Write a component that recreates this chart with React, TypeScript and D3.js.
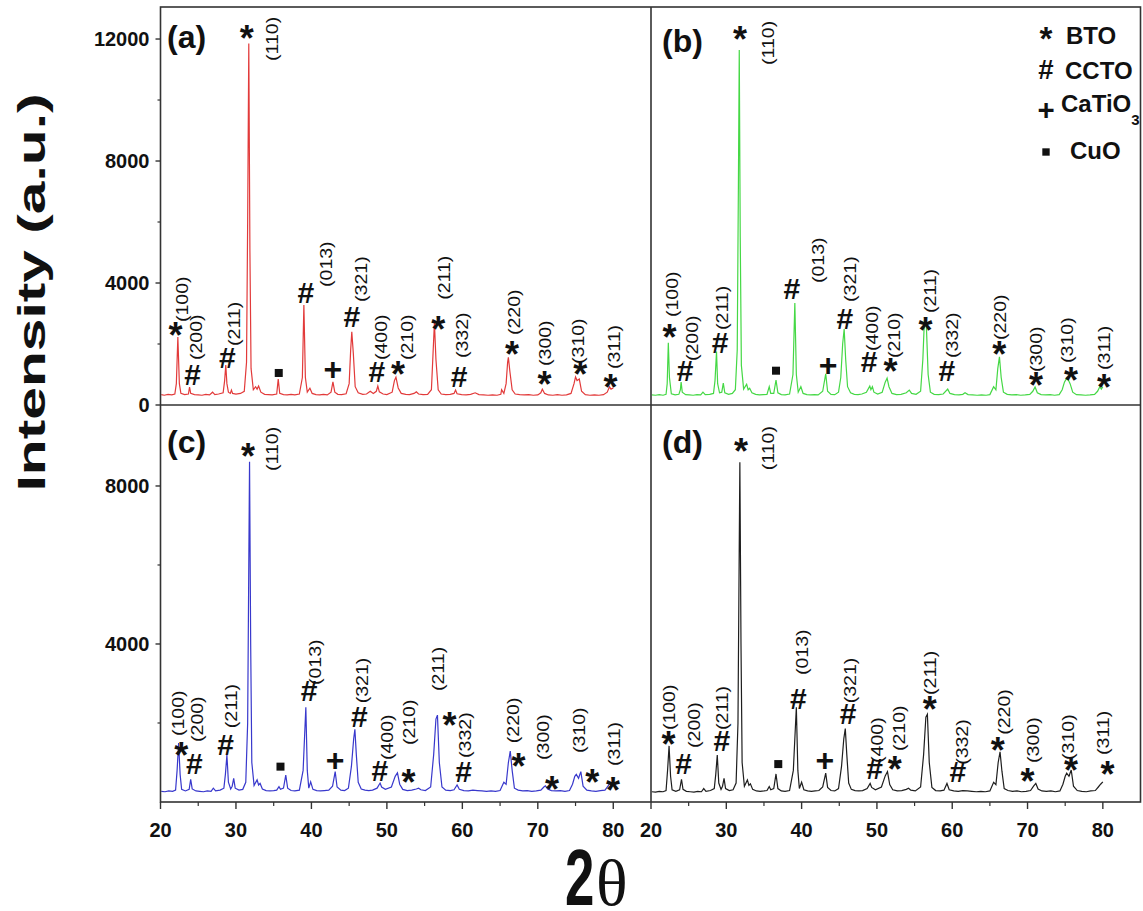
import React from "react";
import * as d3 from "d3";

const W = 1143;
const H = 911;
const FONT = "'Liberation Sans', Arial, Helvetica, sans-serif";

// 2θ / intensity readings for each pattern
const patternA: [number, number][] = [
  [20.1,340],[20.5,320],[21.0,350],[21.5,330],[21.9,360],[22.1,700],[22.3,2230],[22.5,700],[22.7,380],[23.2,340],
  [23.7,360],[23.85,590],[24.0,380],[24.5,340],[25.0,330],[25.5,320],[26.0,350],[26.5,330],[26.9,420],[27.2,340],
  [27.7,360],[28.3,400],[28.5,800],[28.65,1310],[28.8,700],[29.0,420],[29.25,380],[29.4,490],[29.55,380],[30.0,360],
  [30.6,380],[31.1,450],[31.4,1400],[31.55,6000],[31.7,11850],[31.85,5000],[32.0,1200],[32.3,500],[32.6,600],[32.8,520],
  [33.0,620],[33.3,420],[33.8,350],[34.3,340],[34.8,330],[35.4,360],[35.6,850],[35.8,380],[36.3,340],[36.8,330],
  [37.3,350],[37.8,330],[38.4,360],[38.8,900],[39.0,3280],[39.2,900],[39.45,420],[39.8,550],[40.1,380],[40.6,340],
  [41.1,330],[41.6,350],[42.1,330],[42.6,420],[42.85,760],[43.1,420],[43.5,350],[44.0,340],[44.6,370],[45.0,700],
  [45.2,1800],[45.35,2400],[45.55,1700],[45.8,600],[46.2,400],[46.8,350],[47.3,360],[47.8,450],[48.2,380],[48.6,450],
  [48.8,620],[49.0,430],[49.5,360],[50.0,340],[50.7,420],[51.0,800],[51.2,910],[51.5,560],[51.9,380],[52.5,350],
  [53.0,340],[53.6,380],[53.9,430],[54.2,360],[54.8,340],[55.4,350],[55.9,500],[56.1,1600],[56.3,2700],[56.5,1500],
  [56.8,500],[57.2,360],[57.8,340],[58.4,350],[58.9,380],[59.1,490],[59.3,370],[59.9,340],[60.5,330],[61.1,350],
  [61.7,400],[62.2,340],[62.8,330],[63.4,320],[64.0,330],[64.6,320],[65.1,350],[65.2,500],[65.5,380],[65.8,700],
  [66.0,1400],[66.1,1560],[66.3,1100],[66.6,500],[67.0,360],[67.6,340],[68.2,330],[68.8,340],[69.4,320],[70.0,330],
  [70.4,400],[70.6,520],[70.9,380],[71.4,330],[72.0,320],[72.6,340],[73.2,320],[73.8,330],[74.4,380],[74.8,700],
  [75.0,920],[75.2,800],[75.5,850],[75.8,450],[76.3,340],[76.9,320],[77.5,330],[78.1,320],[78.7,340],[79.2,420],
  [79.5,600],[79.7,520],[80.0,560],
];

const patternB: [number, number][] = [
  [20.1,330],[20.6,320],[21.1,340],[21.6,320],[22.0,350],[22.15,700],[22.3,2040],[22.45,900],[22.7,370],[23.2,330],
  [23.7,350],[23.9,500],[24.0,750],[24.15,420],[24.6,340],[25.1,330],[25.6,320],[26.1,340],[26.6,330],[26.9,420],
  [27.2,340],[27.8,350],[28.3,380],[28.5,800],[28.7,1750],[28.85,700],[29.1,400],[29.4,420],[29.6,720],[29.8,400],
  [30.3,350],[30.8,380],[31.2,500],[31.45,1800],[31.6,7000],[31.72,11640],[31.85,5500],[32.0,1300],[32.3,520],[32.7,680],
  [32.9,500],[33.1,550],[33.4,400],[33.9,350],[34.4,330],[34.9,340],[35.4,350],[35.7,600],[35.9,380],[36.3,380],
  [36.6,820],[36.85,400],[37.3,340],[37.8,330],[38.4,360],[38.85,1000],[39.1,3340],[39.3,1000],[39.55,420],[39.9,600],
  [40.2,380],[40.7,340],[41.2,330],[41.7,340],[42.2,330],[42.8,450],[43.2,1020],[43.45,450],[43.9,350],[44.4,340],
  [44.9,420],[45.2,900],[45.45,2000],[45.65,2490],[45.85,1500],[46.1,600],[46.5,400],[47.0,350],[47.5,340],[48.0,360],
  [48.6,420],[49.05,620],[49.2,500],[49.4,600],[49.6,420],[50.1,360],[50.7,420],[51.1,750],[51.35,880],[51.6,600],
  [52.0,380],[52.6,340],[53.2,350],[53.9,400],[54.3,490],[54.6,380],[55.2,350],[55.8,450],[56.1,1500],[56.3,2750],
  [56.55,2700],[56.8,1000],[57.1,420],[57.6,350],[58.2,340],[58.8,360],[59.4,520],[59.7,380],[60.3,340],[60.9,330],
  [61.4,350],[61.7,400],[62.1,340],[62.7,330],[63.3,320],[63.9,330],[64.5,320],[65.0,340],[65.5,600],[65.8,500],
  [66.05,1200],[66.27,1580],[66.5,900],[66.8,420],[67.3,350],[67.9,330],[68.5,340],[69.1,320],[69.7,330],[70.3,350],
  [70.7,450],[71.0,590],[71.3,400],[71.8,340],[72.4,330],[73.0,340],[73.6,320],[74.2,340],[74.6,500],[74.9,750],
  [75.2,880],[75.45,800],[75.65,700],[76.0,420],[76.5,340],[77.1,330],[77.7,320],[78.3,330],[78.9,350],[79.3,450],
  [79.6,600],[79.8,520],[80.0,600],
];

const patternC: [number, number][] = [
  [20.1,270],[20.6,260],[21.1,280],[21.6,270],[22.0,300],[22.2,800],[22.4,1490],[22.6,700],[22.8,320],[23.3,280],
  [23.8,320],[24.0,575],[24.2,330],[24.7,280],[25.2,270],[25.7,260],[26.2,280],[26.7,270],[27.0,350],[27.3,280],
  [27.9,300],[28.4,350],[28.6,700],[28.8,1190],[29.0,500],[29.3,330],[29.5,400],[29.7,600],[29.9,350],[30.4,300],
  [30.9,320],[31.3,500],[31.55,2000],[31.7,6000],[31.8,8615],[31.95,4000],[32.1,1000],[32.4,420],[32.8,560],[33.0,430],
  [33.2,470],[33.5,330],[34.0,290],[34.5,280],[35.0,290],[35.4,300],[35.7,390],[35.9,320],[36.3,350],[36.6,680],
  [36.85,350],[37.3,290],[37.8,280],[38.4,300],[38.9,800],[39.26,2400],[39.45,800],[39.65,350],[39.9,510],[40.2,320],
  [40.7,290],[41.2,280],[41.7,290],[42.3,300],[42.8,400],[43.15,770],[43.4,380],[43.9,300],[44.4,290],[44.9,350],
  [45.3,900],[45.6,1600],[45.76,1840],[45.95,1200],[46.2,500],[46.6,330],[47.1,300],[47.6,290],[48.1,300],[48.7,350],
  [49.1,480],[49.3,380],[49.8,320],[50.6,380],[51.1,650],[51.4,740],[51.7,450],[52.1,320],[52.7,290],[53.3,300],
  [53.9,330],[54.2,350],[54.5,310],[55.1,290],[55.8,380],[56.2,1200],[56.5,2100],[56.7,2200],[56.95,1000],[57.3,380],
  [57.8,300],[58.4,290],[58.9,310],[59.3,430],[59.6,320],[60.2,290],[60.8,280],[61.4,300],[62.0,290],[62.6,280],
  [63.2,270],[63.8,280],[64.4,270],[65.0,290],[65.5,500],[65.8,450],[66.1,1000],[66.35,1290],[66.6,800],[66.9,350],
  [67.4,300],[68.0,280],[68.6,290],[69.2,270],[69.8,280],[70.4,300],[70.8,380],[71.0,410],[71.3,330],[71.8,290],
  [72.4,280],[73.0,290],[73.6,270],[74.2,290],[74.6,450],[74.9,650],[75.1,700],[75.4,600],[75.7,770],[76.0,400],
  [76.5,300],[77.1,280],[77.7,270],[78.3,290],[78.9,300],[79.3,400],[79.5,470],[79.7,420],[80.0,460],
];

const patternD: [number, number][] = [
  [20.1,260],[20.6,250],[21.1,270],[21.6,260],[22.0,290],[22.2,800],[22.4,1420],[22.6,650],[22.8,310],[23.3,270],
  [23.8,310],[24.05,575],[24.25,320],[24.7,270],[25.2,260],[25.7,250],[26.2,270],[26.7,260],[27.0,340],[27.3,270],
  [27.9,290],[28.4,340],[28.6,700],[28.8,1190],[29.0,480],[29.3,320],[29.5,400],[29.7,600],[29.9,340],[30.4,290],
  [30.9,310],[31.3,480],[31.55,2000],[31.7,6000],[31.8,8600],[31.95,4000],[32.1,1000],[32.4,400],[32.8,560],[33.0,420],
  [33.2,460],[33.5,320],[34.0,280],[34.5,270],[35.0,280],[35.4,290],[35.7,390],[35.9,310],[36.3,340],[36.6,710],
  [36.85,340],[37.3,280],[37.8,270],[38.4,290],[38.9,800],[39.3,2400],[39.5,800],[39.7,340],[40.0,500],[40.3,310],
  [40.8,280],[41.3,270],[41.8,280],[42.3,290],[42.8,380],[43.2,730],[43.45,370],[43.9,290],[44.4,280],[44.9,340],
  [45.3,900],[45.6,1600],[45.8,1860],[46.0,1200],[46.25,480],[46.6,320],[47.1,290],[47.6,280],[48.1,290],[48.7,340],
  [49.1,470],[49.3,370],[49.8,310],[50.6,380],[51.1,660],[51.4,770],[51.7,440],[52.1,310],[52.7,280],[53.3,290],
  [53.9,320],[54.2,350],[54.5,300],[55.1,280],[55.8,380],[56.2,1200],[56.5,2150],[56.7,2220],[56.95,1000],[57.3,370],
  [57.8,290],[58.4,280],[58.9,300],[59.3,470],[59.6,310],[60.2,280],[60.8,270],[61.4,290],[62.0,280],[62.6,270],
  [63.2,260],[63.8,270],[64.4,260],[65.0,280],[65.5,500],[65.8,440],[66.1,1000],[66.35,1270],[66.6,780],[66.9,340],
  [67.4,290],[68.0,270],[68.6,280],[69.2,260],[69.8,270],[70.4,290],[70.8,400],[71.1,470],[71.4,330],[71.9,280],
  [72.5,270],[73.1,280],[73.7,260],[74.3,280],[74.7,450],[75.0,650],[75.2,730],[75.5,650],[75.8,810],[76.1,400],
  [76.6,290],[77.2,270],[77.8,260],[78.4,280],[79.0,290],[79.4,380],[79.7,450],[80.0,510],
];

// peak marks: [symbol, hkl, symbol 2θ, symbol I, label 2θ, label I]
type Mark = [string, string, number, number, number?, number?];

const marksA: Mark[] = [
  ["*","(100)",21.99,2525,22.79,2720],
  ["#","(200)",24.25,1015,24.65,1475],
  ["#","(211)",28.86,1575,29.7,1935],
  ["*","(110)",31.42,12260,34.74,11280],
  ["■","",35.67,1050],
  ["#","(013)",39.26,3700,41.9,3870],
  ["+","",42.84,1180],
  ["#","(321)",45.37,2920,46.56,3380],
  ["#","(400)",48.68,1115,49.2,1475],
  ["*","(210)",51.47,1245,52.67,1475],
  ["*","(211)",56.8,2720,57.6,3450],
  ["#","(332)",59.58,950,59.97,1540],
  ["*","(220)",66.57,1910,66.9,2295],
  ["*","(300)",70.9,930,71.0,1280],
  ["*","(310)",75.64,1235,75.38,1345],
  ["*","(311)",79.63,820,80.03,1180],
];

const marksB: Mark[] = [
  ["*","(100)",22.46,2460,22.82,2885],
  ["#","(200)",24.54,1150,25.47,1440],
  ["#","(211)",29.18,2075,29.44,2460],
  ["*","(110)",31.83,12240,35.54,11150],
  ["■","",36.6,1125],
  ["#","(013)",38.7,3840,42.16,4000],
  ["+","",43.52,1310],
  ["#","(321)",45.74,2840,46.38,3380],
  ["#","(400)",48.95,1420,49.31,1770],
  ["*","(210)",51.79,1365,52.22,1540],
  ["*","(211)",56.46,2680,57.0,3015],
  ["#","(332)",59.28,1150,59.9,1540],
  ["*","(220)",66.26,1910,66.38,2130],
  ["*","(300)",71.12,875,71.17,1082],
  ["*","(310)",75.76,1040,75.27,1380],
  ["*","(311)",80.17,820,80.17,1150],
];

const marksC: Mark[] = [
  ["*","(100)",22.75,1360,22.26,1670],
  ["#","(200)",24.5,980,24.78,1520],
  ["#","(211)",28.63,1470,29.3,1870],
  ["*","(110)",31.6,8950,34.74,8380],
  ["■","",35.9,895],
  ["#","(013)",39.7,2820,40.45,2960],
  ["+","",43.15,1080],
  ["#","(321)",46.34,2160,46.7,2500],
  ["#","(400)",49.08,810,50.0,1063],
  ["*","(210)",52.85,680,52.93,1440],
  ["*","(211)",58.29,2120,56.79,2810],
  ["#","(332)",60.15,770,60.37,1115],
  ["*","(220)",67.45,1105,66.75,1490],
  ["*","(300)",71.88,515,70.73,1065],
  ["*","(310)",77.2,700,75.51,1240],
  ["*","(311)",79.98,473,80.03,910],
];

const marksD: Mark[] = [
  ["*","(100)",22.33,1650,22.42,1820],
  ["#","(200)",24.32,980,25.73,1370],
  ["#","(211)",29.4,1570,29.44,1820],
  ["*","(110)",31.96,9060,35.54,8400],
  ["■","",36.9,960],
  ["#","(013)",39.55,2625,40.04,3215],
  ["+","",43.09,1080],
  ["#","(321)",46.17,2245,46.4,2500],
  ["#","(400)",49.7,850,49.95,990],
  ["*","(210)",52.36,1020,52.89,1290],
  ["*","(211)",57.0,2540,57.0,2710],
  ["#","(332)",60.74,770,61.33,940],
  ["*","(220)",66.04,1485,66.93,1700],
  ["*","(300)",70.01,725,70.77,990],
  ["*","(310)",75.76,980,75.4,1065],
  ["*","(311)",80.61,895,80.06,1190],
];

const xTickValues = [20, 30, 40, 50, 60, 70, 80];
const xMinorValues = [25, 35, 45, 55, 65, 75];
const topYTicks = [0, 4000, 8000, 12000];
const topYMinor = [2000, 6000, 10000];
const bottomYTicks = [4000, 8000];
const bottomYMinor = [2000, 6000];

const legendItems = [
  { sym: "*", name: "BTO" },
  { sym: "#", name: "CCTO" },
  { sym: "+", name: "CaTiO", sub: "3" },
  { sym: "■", name: "CuO" },
];

const left = 160.5;
const mid = 651;
const right = 1140.5;
const top = 7;
const midY = 405;
const bottom = 802;

const xL = d3.scaleLinear().domain([20, 85]).range([left, mid]);
const xR = d3.scaleLinear().domain([20, 85]).range([mid, right]);
const yTop = d3.scaleLinear().domain([0, 13050]).range([midY, top]);
const yBot = d3.scaleLinear().domain([0, 10050]).range([bottom, midY]);

const panels = [
  { id: "(a)", data: patternA, marks: marksA, color: "#e23a3a", x: xL, y: yTop, lx: 167, ly: 48 },
  { id: "(b)", data: patternB, marks: marksB, color: "#45d845", x: xR, y: yTop, lx: 662, ly: 52 },
  { id: "(c)", data: patternC, marks: marksC, color: "#3838cc", x: xL, y: yBot, lx: 167, ly: 453 },
  { id: "(d)", data: patternD, marks: marksD, color: "#1e1e1e", x: xR, y: yBot, lx: 662, ly: 453 },
];

function Sym({ s, x, y, k = 1 }: { s: string; x: number; y: number; k?: number }) {
  if (s === "■") return <rect x={x - 4 * k} y={y - 4 * k} width={8 * k} height={8 * k} fill="#111" />;
  const size = (s === "*" ? 36 : s === "#" ? 30 : 32) * k;
  const dy = s === "*" ? "0.56em" : s === "#" ? "0.36em" : "0.35em";
  return (
    <text x={x} y={y} dy={dy} textAnchor="middle" fontSize={size} fontWeight="bold" fontFamily={FONT} fill="#111">
      {s}
    </text>
  );
}

export default function App() {
  const line = (p: any) =>
    d3.line<[number, number]>().x((d) => p.x(d[0])).y((d) => p.y(d[1]))(p.data) || "";

  return (
    <svg width={W} height={H} style={{ position: "absolute", left: 0, top: 0, background: "#fff" }}>
      {panels.map((p) => (
        <g key={p.id}>
          <path d={line(p)} fill="none" stroke={p.color} strokeWidth={1.2} />
          {p.marks.map((m, i) => (
            <g key={i}>
              <Sym s={m[0]} x={p.x(m[2])} y={p.y(m[3])} />
              {m[1] && (
                <text
                  transform={`translate(${p.x(m[4] as number)},${p.y(m[5] as number)}) rotate(-90) scale(1.15,1)`}
                  dominantBaseline="central"
                  fontSize={17}
                  fontFamily={FONT}
                  fill="#111"
                >
                  {m[1]}
                </text>
              )}
            </g>
          ))}
          <text x={p.lx} y={p.ly} fontSize={32} fontWeight="bold" fontFamily={FONT} fill="#111">
            {p.id}
          </text>
        </g>
      ))}

      {/* frame */}
      <rect x={left} y={top} width={right - left} height={bottom - top} fill="none" stroke="#333" strokeWidth={1.6} />
      <line x1={left} x2={right} y1={midY} y2={midY} stroke="#333" strokeWidth={1.6} />
      <line x1={mid} x2={mid} y1={top} y2={bottom} stroke="#333" strokeWidth={1.6} />

      {/* y ticks */}
      {topYTicks.map((v) => (
        <g key={"ty" + v}>
          <line x1={left - 5} x2={left} y1={yTop(v)} y2={yTop(v)} stroke="#333" strokeWidth={1.4} />
          <text x={left - 11} y={yTop(v)} dy="0.36em" textAnchor="end" fontSize={20} fontWeight="bold" fontFamily={FONT} fill="#111">
            {v}
          </text>
        </g>
      ))}
      {topYMinor.map((v) => (
        <line key={"tym" + v} x1={left - 3} x2={left} y1={yTop(v)} y2={yTop(v)} stroke="#333" strokeWidth={1.2} />
      ))}
      {bottomYTicks.map((v) => (
        <g key={"by" + v}>
          <line x1={left - 5} x2={left} y1={yBot(v)} y2={yBot(v)} stroke="#333" strokeWidth={1.4} />
          <text x={left - 11} y={yBot(v)} dy="0.36em" textAnchor="end" fontSize={20} fontWeight="bold" fontFamily={FONT} fill="#111">
            {v}
          </text>
        </g>
      ))}
      {bottomYMinor.map((v) => (
        <line key={"bym" + v} x1={left - 3} x2={left} y1={yBot(v)} y2={yBot(v)} stroke="#333" strokeWidth={1.2} />
      ))}

      {/* x ticks */}
      {[xL, xR].map((sc, k) => (
        <g key={"xa" + k}>
          {xTickValues.map((v) => (
            <g key={v}>
              <line x1={sc(v)} x2={sc(v)} y1={bottom} y2={bottom + 7} stroke="#333" strokeWidth={1.4} />
              <text x={sc(v)} y={837} textAnchor="middle" fontSize={20} fontWeight="bold" fontFamily={FONT} fill="#111">
                {v}
              </text>
            </g>
          ))}
          {xMinorValues.map((v) => (
            <line key={"m" + v} x1={sc(v)} x2={sc(v)} y1={bottom} y2={bottom + 4} stroke="#333" strokeWidth={1.2} />
          ))}
        </g>
      ))}

      {/* legend */}
      {legendItems.map((it, i) => {
        const cy = [31, 69, 110, 152][i];
        const tx = [1066, 1065, 1061, 1070][i];
        const by = [44, 79, 112, 159][i];
        return (
          <g key={it.name}>
            <Sym s={it.sym} x={1046} y={cy} k={0.92} />
            <text x={tx} y={by} fontSize={24} fontWeight="bold" fontFamily={FONT} fill="#111">
              {it.name}
              {it.sub && (
                <tspan dy={13} fontSize={15}>
                  {it.sub}
                </tspan>
              )}
            </text>
          </g>
        );
      })}

      {/* axis titles */}
      <text
        transform="translate(45,292.5) rotate(-90)"
        textAnchor="middle"
        fontSize={38}
        fontWeight="bold"
        fontFamily={FONT}
        textLength={398}
        lengthAdjust="spacingAndGlyphs"
        fill="#111"
      >
        Intensity (a.u.)
      </text>
      <text transform="translate(565,905) scale(0.66,1)" fontSize={80} fontWeight="bold" fontFamily={FONT} fill="#111">
        2
      </text>
      <text x={596} y={905} fontSize={66} fontFamily="'Liberation Serif', 'Times New Roman', serif" fill="#111">
        θ
      </text>
    </svg>
  );
}
